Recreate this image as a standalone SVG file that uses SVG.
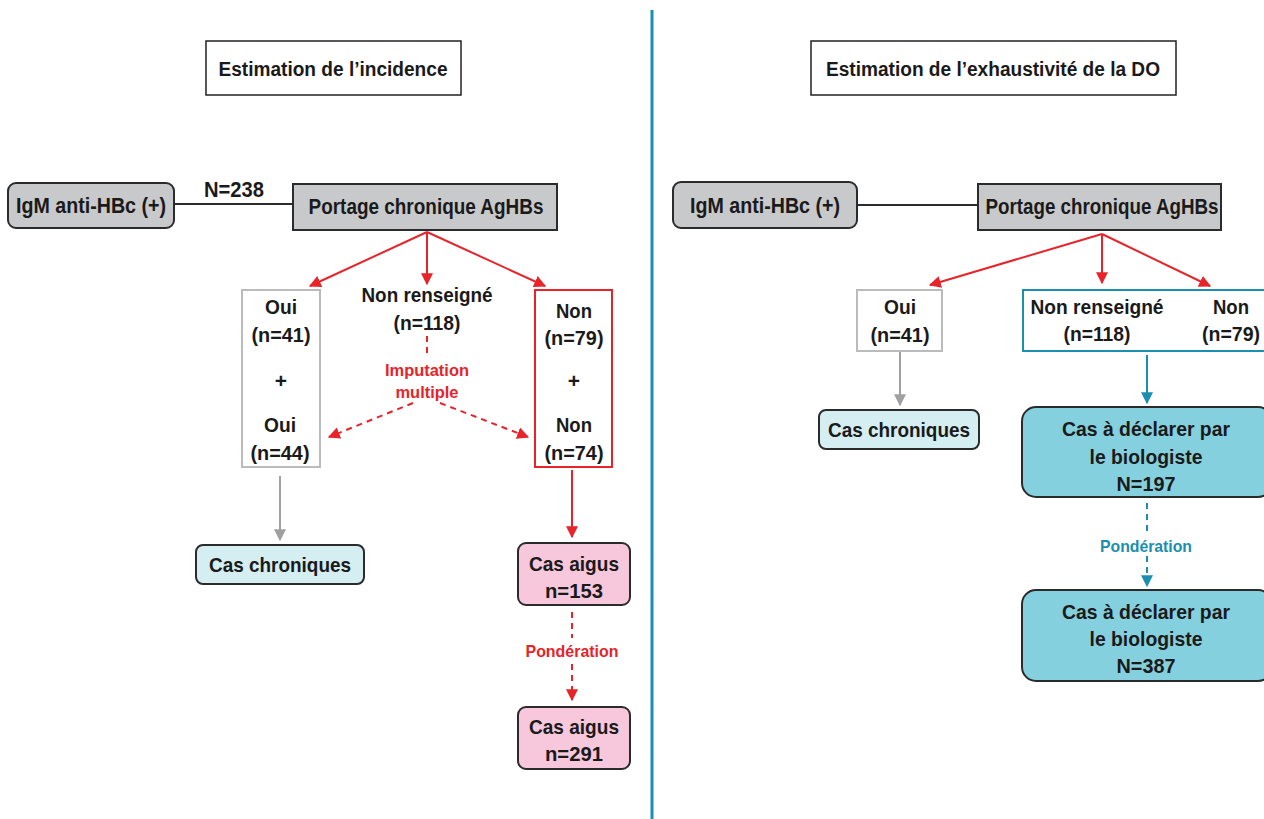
<svg xmlns="http://www.w3.org/2000/svg" width="1264" height="819" viewBox="0 0 1264 819">
<defs>
<style>
text{font-family:"Liberation Sans",Arial,sans-serif;font-weight:bold;font-size:21px;text-anchor:middle;fill:#1a1a1a}
.t22{font-size:22px}
.t20{font-size:20px}
.red{fill:#e8232a;font-size:17px}
.teal{fill:#1a8fb0;font-size:17px}
.title{fill:#fff;stroke:#222;stroke-width:1.5}
.grey{fill:#c8c9cb;stroke:#2b2b2b;stroke-width:2}
.chron{fill:#d5eef2;stroke:#2b2b2b;stroke-width:2}
.pink{fill:#f7c8dc;stroke:#2b2b2b;stroke-width:2}
.tealbox{fill:#85d0de;stroke:#2b2b2b;stroke-width:2}
.lr{stroke:#e8232a;stroke-width:2;fill:none}
.lrd{stroke:#e8232a;stroke-width:2;fill:none;stroke-dasharray:6 5}
.lg{stroke:#a0a0a0;stroke-width:2;fill:none}
.lt{stroke:#1a8fb0;stroke-width:2;fill:none}
.ltd{stroke:#1a8fb0;stroke-width:2;fill:none;stroke-dasharray:6 5}
.lk{stroke:#2b2b2b;stroke-width:2;fill:none}
</style>
<marker id="ar" viewBox="0 0 10 10" refX="9" refY="5" markerWidth="6" markerHeight="6" orient="auto"><path d="M0,0L10,5L0,10z" fill="#e8232a"/></marker>
<marker id="ag" viewBox="0 0 10 10" refX="9" refY="5" markerWidth="6" markerHeight="6" orient="auto"><path d="M0,0L10,5L0,10z" fill="#a0a0a0"/></marker>
<marker id="at" viewBox="0 0 10 10" refX="9" refY="5" markerWidth="6" markerHeight="6" orient="auto"><path d="M0,0L10,5L0,10z" fill="#1a8fb0"/></marker>
</defs>
<rect width="1264" height="819" fill="#fff"/>
<line x1="652" y1="10" x2="652" y2="819" stroke="#1a8fb0" stroke-width="3"/>

<g id="connectors">
<line class="lk" x1="174" y1="204" x2="293" y2="204"/>
<line class="lr" x1="427" y1="232" x2="310" y2="286" marker-end="url(#ar)"/>
<line class="lr" x1="427" y1="232" x2="427" y2="284" marker-end="url(#ar)"/>
<line class="lr" x1="427" y1="232" x2="545" y2="286" marker-end="url(#ar)"/>
<line class="lrd" x1="427" y1="336" x2="427" y2="356"/>
<line class="lrd" x1="413" y1="403" x2="329" y2="437" marker-end="url(#ar)"/>
<line class="lrd" x1="440" y1="403" x2="528" y2="437" marker-end="url(#ar)"/>
<line class="lg" x1="280" y1="476" x2="280" y2="540" marker-end="url(#ag)"/>
<line class="lr" x1="572" y1="470" x2="572" y2="537" marker-end="url(#ar)"/>
<line class="lrd" x1="572" y1="612" x2="572" y2="638"/>
<line class="lrd" x1="572" y1="664" x2="572" y2="700" marker-end="url(#ar)"/>

<line class="lk" x1="857" y1="205" x2="978" y2="205"/>
<line class="lr" x1="1102" y1="234" x2="930" y2="285" marker-end="url(#ar)"/>
<line class="lr" x1="1102" y1="234" x2="1102" y2="283" marker-end="url(#ar)"/>
<line class="lr" x1="1102" y1="234" x2="1210" y2="286" marker-end="url(#ar)"/>
<line class="lg" x1="900" y1="351" x2="900" y2="405" marker-end="url(#ag)"/>
<line class="lt" x1="1147" y1="355" x2="1147" y2="403" marker-end="url(#at)"/>
<line class="ltd" x1="1147" y1="503" x2="1147" y2="534"/>
<line class="ltd" x1="1147" y1="556" x2="1147" y2="586" marker-end="url(#at)"/>
</g>

<g id="title-left"><rect class="title" x="206" y="41" width="255" height="54"/><text class="t20" x="333" y="76" textLength="229" lengthAdjust="spacingAndGlyphs">Estimation de l’incidence</text></g>
<g id="title-right"><rect class="title" x="811" y="41" width="365" height="54"/><text class="t20" x="993" y="76" textLength="334" lengthAdjust="spacingAndGlyphs">Estimation de l’exhaustivité de la DO</text></g>

<g id="igm-left"><rect class="grey" x="8" y="183" width="166" height="45" rx="8"/><text class="t22" x="91" y="213" textLength="150" lengthAdjust="spacingAndGlyphs">IgM anti-HBc (+)</text></g>
<text class="t22" x="234" y="197" textLength="60" lengthAdjust="spacingAndGlyphs">N=238</text>
<g id="portage-left"><rect class="grey" x="293" y="184" width="264" height="46"/><text class="t22" x="426" y="214" textLength="235" lengthAdjust="spacingAndGlyphs">Portage chronique AgHBs</text></g>

<g id="oui-left"><rect x="242" y="290" width="78" height="177" fill="#fff" stroke="#bbb" stroke-width="2"/>
<text x="281" y="314" textLength="32" lengthAdjust="spacingAndGlyphs">Oui</text><text x="281" y="342" textLength="59" lengthAdjust="spacingAndGlyphs">(n=41)</text><text x="281" y="388">+</text><text x="280" y="432" textLength="32" lengthAdjust="spacingAndGlyphs">Oui</text><text x="280" y="460" textLength="59" lengthAdjust="spacingAndGlyphs">(n=44)</text></g>
<g id="nr-left"><text x="427" y="302" textLength="131" lengthAdjust="spacingAndGlyphs">Non renseigné</text><text x="427" y="330" textLength="67" lengthAdjust="spacingAndGlyphs">(n=118)</text></g>
<text class="red" x="427" y="376" textLength="84" lengthAdjust="spacingAndGlyphs">Imputation</text><text class="red" x="427" y="398" textLength="63" lengthAdjust="spacingAndGlyphs">multiple</text>
<g id="non-left"><rect x="535" y="290" width="77" height="177" fill="#fff" stroke="#e8232a" stroke-width="2"/>
<text x="574" y="318" textLength="36" lengthAdjust="spacingAndGlyphs">Non</text><text x="574" y="345" textLength="59" lengthAdjust="spacingAndGlyphs">(n=79)</text><text x="574" y="388">+</text><text x="574" y="432" textLength="36" lengthAdjust="spacingAndGlyphs">Non</text><text x="574" y="460" textLength="59" lengthAdjust="spacingAndGlyphs">(n=74)</text></g>

<g id="chron-left"><rect class="chron" x="196" y="545" width="168" height="39" rx="7"/><text x="280" y="572" textLength="142" lengthAdjust="spacingAndGlyphs">Cas chroniques</text></g>
<g id="aigus1"><rect class="pink" x="518" y="543" width="112" height="62" rx="8"/><text x="574" y="571" textLength="90" lengthAdjust="spacingAndGlyphs">Cas aigus</text><text x="574" y="598" textLength="58" lengthAdjust="spacingAndGlyphs">n=153</text></g>
<text class="red" x="572" y="657" textLength="93" lengthAdjust="spacingAndGlyphs">Pondération</text>
<g id="aigus2"><rect class="pink" x="518" y="707" width="112" height="62" rx="8"/><text x="574" y="734" textLength="90" lengthAdjust="spacingAndGlyphs">Cas aigus</text><text x="574" y="761" textLength="58" lengthAdjust="spacingAndGlyphs">n=291</text></g>

<g id="igm-right"><rect class="grey" x="673" y="182" width="184" height="46" rx="8"/><text class="t22" x="765" y="213" textLength="150" lengthAdjust="spacingAndGlyphs">IgM anti-HBc (+)</text></g>
<g id="portage-right"><rect class="grey" x="978" y="184" width="243" height="46"/><text class="t22" x="1102" y="214" textLength="233" lengthAdjust="spacingAndGlyphs">Portage chronique AgHBs</text></g>
<g id="oui-right"><rect x="857" y="290" width="85" height="61" fill="#fff" stroke="#bbb" stroke-width="2"/><text x="900" y="314" textLength="32" lengthAdjust="spacingAndGlyphs">Oui</text><text x="900" y="342" textLength="59" lengthAdjust="spacingAndGlyphs">(n=41)</text></g>
<g id="nr-non-right"><rect x="1023" y="290" width="250" height="61" fill="#fff" stroke="#1a8fb0" stroke-width="2"/>
<text x="1097" y="314" textLength="133" lengthAdjust="spacingAndGlyphs">Non renseigné</text><text x="1097" y="341" textLength="67" lengthAdjust="spacingAndGlyphs">(n=118)</text><text x="1231" y="314" textLength="36" lengthAdjust="spacingAndGlyphs">Non</text><text x="1231" y="341" textLength="58" lengthAdjust="spacingAndGlyphs">(n=79)</text></g>
<g id="chron-right"><rect class="chron" x="819" y="410" width="160" height="39" rx="7"/><text x="899" y="437" textLength="142" lengthAdjust="spacingAndGlyphs">Cas chroniques</text></g>
<g id="declarer1"><rect class="tealbox" x="1022" y="407" width="250" height="90" rx="14"/><text x="1146" y="436" textLength="168" lengthAdjust="spacingAndGlyphs">Cas à déclarer par</text><text x="1146" y="464" textLength="113" lengthAdjust="spacingAndGlyphs">le biologiste</text><text x="1146" y="491" textLength="59" lengthAdjust="spacingAndGlyphs">N=197</text></g>
<text class="teal" x="1146" y="552" textLength="92" lengthAdjust="spacingAndGlyphs">Pondération</text>
<g id="declarer2"><rect class="tealbox" x="1022" y="590" width="250" height="91" rx="14"/><text x="1146" y="619" textLength="168" lengthAdjust="spacingAndGlyphs">Cas à déclarer par</text><text x="1146" y="646" textLength="113" lengthAdjust="spacingAndGlyphs">le biologiste</text><text x="1146" y="673" textLength="59" lengthAdjust="spacingAndGlyphs">N=387</text></g>
</svg>
